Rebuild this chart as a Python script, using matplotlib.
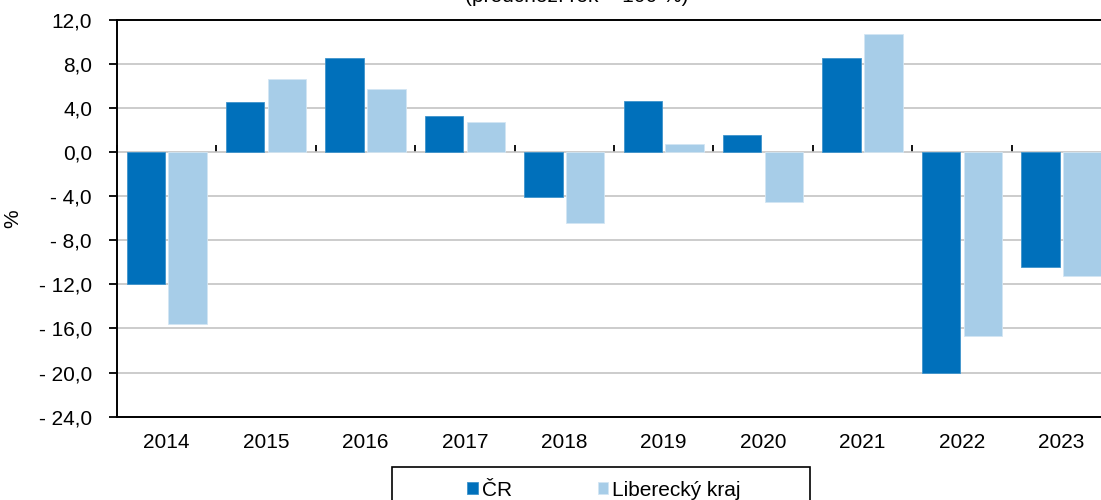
import numpy as np
import matplotlib.pyplot as plt
from matplotlib.patches import Rectangle
from matplotlib.ticker import FixedLocator, FuncFormatter

plt.rcParams['font.family'] = ['Liberation Sans', 'DejaVu Sans']

# Data (change vs previous year, %)
roky = ['2014', '2015', '2016', '2017', '2018', '2019', '2020', '2021', '2022', '2023']
cr = [-12.0, 4.5, 8.5, 3.3, -4.1, 4.6, 1.5, 8.5, -20.0, -10.4]
liberecky = [-15.6, 6.6, 5.7, 2.7, -6.4, 0.7, -4.5, 10.7, -16.7, -11.2]
nazvy = ['ČR', 'Liberecký kraj']
barvy = ['#0070bb', '#a7cde8']

y_min, y_max = -24, 12
y_ticks = np.arange(y_min, y_max + 1, 4)


def fmt_y(v, pos):
    s = f"{abs(v):.1f}".replace('.', ',')
    return f"- {s}" if v < 0 else s


fig = plt.figure(figsize=(11.01, 5.0), dpi=100)
# right edge of plot area is cut off in the original
ax = fig.add_axes([117 / 1101, 1 - 416.7 / 500, 994 / 1101, 397 / 500])

x = np.arange(len(roky))
sirka = 0.385
ax.bar(x - 0.21, cr, sirka, color=barvy[0], edgecolor='#3f94cc', linewidth=0.6, label=nazvy[0], zorder=3)
ax.bar(x + 0.21, liberecky, sirka, color=barvy[1], edgecolor='#d3e6f3', linewidth=0.6, label=nazvy[1], zorder=3)

ax.set_xlim(-0.5, len(roky) - 0.5)
ax.set_ylim(y_min, y_max)
ax.yaxis.set_major_locator(FixedLocator(y_ticks))
ax.yaxis.set_major_formatter(FuncFormatter(fmt_y))
ax.grid(axis='y', color='#c4c4c4', linewidth=1.2, zorder=0)
ax.set_axisbelow(True)

ax.set_xticks(x)
ax.set_xticklabels(roky)
ax.tick_params(axis='x', length=0, pad=12, labelsize=15)
ax.tick_params(axis='y', direction='out', length=6, width=1.3, pad=12, labelsize=15)

for side in ['left', 'top', 'bottom']:
    ax.spines[side].set_color('black')
    ax.spines[side].set_linewidth(1.4)
ax.spines['right'].set_visible(False)

# zero line with boundary ticks
frac0 = (0 - y_min) / (y_max - y_min)
sec = ax.secondary_xaxis(frac0)
sec.spines['bottom'].set_linewidth(1.6)
sec.set_xticks(np.arange(-0.5, len(roky), 1.0))
sec.tick_params(axis='x', direction='out', length=5, width=1.3, labelbottom=False, labeltop=False)
sec.spines['top'].set_visible(False)

ax.set_ylabel('%', fontsize=15)
ax.yaxis.set_label_coords(-0.095, 0.5)

fig.text(577 / 1101, 1.006, '(předchozí rok = 100 %)', ha='center', va='center', fontsize=15)

# legend box (cut at bottom in original)
fig.patches.append(Rectangle((392 / 1101, -0.05), 418 / 1101, 0.05 + 1 - 467 / 500,
                             transform=fig.transFigure, fill=False, edgecolor='black', linewidth=1.2))
fig.legend(loc='upper center', bbox_to_anchor=(604 / 1101, 1 - 462 / 500), ncol=2, frameon=False,
           fontsize=15, handlelength=0.5, handleheight=0.5, handletextpad=0.2, columnspacing=4.1)

fig.savefig('out.png', dpi=100)
